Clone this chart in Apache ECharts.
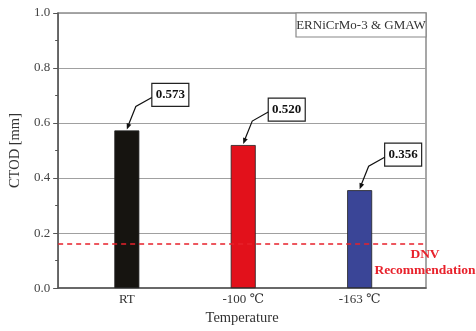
<!DOCTYPE html>
<html><head><meta charset="utf-8">
<script src="https://cdn.jsdelivr.net/npm/echarts@6/dist/echarts.min.js"></script>
<style>html,body{margin:0;padding:0;background:#fff}#c{width:476px;height:331px}</style>
</head><body><div id="c"></div>
<script>
const categories = ['RT', '-100 ℃', '-163 ℃'];
const positions = [1, 2, 3];
const ctodValues = [0.573, 0.520, 0.356];
const barColors = ['#161410', '#e2111b', '#3a4597'];
const dnvValue = 0.157;
const yTicks = [0.0, 0.2, 0.4, 0.6, 0.8, 1.0];
const FONT = '"Liberation Serif","DejaVu Serif",serif';

const chart = echarts.init(document.getElementById('c'), null, {renderer: 'canvas'});
const option = {
  animation: false,
  grid: {left: 55, right: 50, top: 13, bottom: 40, show: true, borderColor: '#8a8a8a', borderWidth: 1.5, backgroundColor: 'transparent'},
  xAxis: {
    type: 'value', min: 0.41, max: 3.57,
    name: 'Temperature', nameLocation: 'middle', nameGap: 21,
    nameTextStyle: {fontFamily: FONT, fontSize: 14.5, color: '#333'},
    axisLine: {show: true, lineStyle: {color: '#555', width: 1.5}},
    axisTick: {show: false},
    splitLine: {show: false},
    axisLabel: {
      customValues: positions,
      fontFamily: FONT, fontSize: 13, color: '#333', margin: 5,
      formatter: v => { const i = positions.indexOf(Math.round(v)); return Math.abs(v - Math.round(v)) < 1e-6 && i >= 0 ? categories[i] : ''; }
    }
  },
  yAxis: {
    type: 'value', min: 0, max: 1, interval: 0.2,
    name: 'CTOD [mm]', nameLocation: 'middle', nameGap: 35, nameRotate: 90,
    nameTextStyle: {fontFamily: FONT, fontSize: 14.5, color: '#333'},
    axisLine: {show: true, lineStyle: {color: '#555', width: 1.5}},
    axisTick: {show: true, inside: false, length: 5, lineStyle: {color: '#555'}},
    minorTick: {show: true, splitNumber: 2, length: 3, lineStyle: {color: '#555'}},
    splitLine: {show: true, lineStyle: {color: '#a0a0a0', width: 1}},
    axisLabel: {fontFamily: FONT, fontSize: 13, color: '#444', margin: 8,
      formatter: v => v.toFixed(1)}
  },
  series: [{
    type: 'bar',
    barWidth: 25,
    data: ctodValues.map((v, i) => ({value: [positions[i], v], itemStyle: {color: barColors[i], borderColor: '#222', borderWidth: 0.8}})),
    markLine: {
      silent: true, symbol: 'none',
      lineStyle: {color: '#e8212b', type: [5, 4], width: 1.6},
      label: {show: false},
      data: [{yAxis: dnvValue}]
    },
    z: 3
  }]
};
chart.setOption(option);

function build() {
  const g = [];
  ctodValues.forEach((v, i) => {
    const p = chart.convertToPixel({gridIndex: 0}, [positions[i], v]);
    const tx = p[0], ty = p[1] - 1;
    g.push({type: 'rect', shape: {x: tx + 25, y: ty - 46, width: 37, height: 23},
      style: {fill: '#fff', stroke: '#222', lineWidth: 1.2}, z: 10});
    g.push({type: 'text', x: tx + 43.5, y: ty - 34.5,
      style: {text: v.toFixed(3), font: 'bold 13px ' + FONT, fill: '#111', align: 'center', verticalAlign: 'middle'}, z: 11});
    const s = [tx + 25, ty - 32], b = [tx + 9, ty - 23], t = [tx, ty];
    g.push({type: 'polyline', shape: {points: [s, b, [t[0] + 1.6, t[1] - 4.5]]},
      style: {stroke: '#111', lineWidth: 1.2, fill: null}, z: 10});
    const dx = t[0] - b[0], dy = t[1] - b[1], L = Math.hypot(dx, dy);
    const ux = dx / L, uy = dy / L, nx = -uy, ny = ux;
    const bl = 6, bw = 2.5;
    g.push({type: 'polygon', shape: {points: [t,
      [t[0] - ux * bl + nx * bw, t[1] - uy * bl + ny * bw],
      [t[0] - ux * bl - nx * bw, t[1] - uy * bl - ny * bw]]},
      style: {fill: '#111'}, z: 10});
  });
  const dp = chart.convertToPixel({gridIndex: 0}, [3.57, dnvValue]);
  g.push({type: 'text', x: dp[0] - 1, y: dp[1] + 2,
    style: {text: 'DNV\nRecommendation', font: 'bold 13.5px ' + FONT, fill: '#e8212b', align: 'center', verticalAlign: 'top', lineHeight: 16}, z: 12});
  const tr = chart.convertToPixel({gridIndex: 0}, [3.57, 1.0]);
  g.push({type: 'rect', shape: {x: tr[0] - 130, y: tr[1], width: 130, height: 24},
    style: {fill: '#fff', stroke: '#888', lineWidth: 1.2}, z: 10});
  g.push({type: 'text', x: tr[0] - 65, y: tr[1] + 12.5,
    style: {text: 'ERNiCrMo-3 & GMAW', font: '13px ' + FONT, fill: '#333', align: 'center', verticalAlign: 'middle'}, z: 11});
  chart.setOption({graphic: g});
}
build();
</script>
</body></html>
